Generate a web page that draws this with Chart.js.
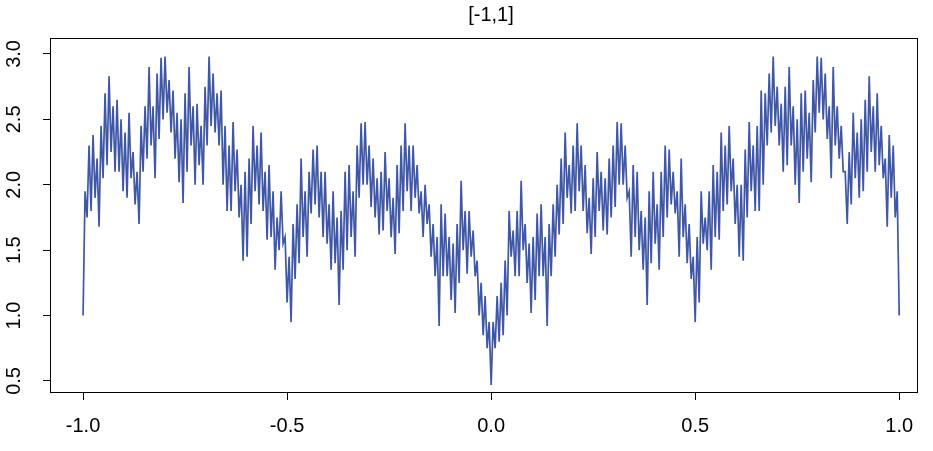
<!DOCTYPE html>
<html>
<head>
<meta charset="utf-8">
<script src="https://cdn.jsdelivr.net/npm/chart.js@4/dist/chart.umd.min.js"></script>
<style>
  html, body { margin: 0; padding: 0; background: #fff; }
  #wrap { width: 933px; height: 451px; position: relative; }
</style>
</head>
<body>
<div id="wrap"><canvas id="c"></canvas></div>
<script>
const title = '[-1,1]';
const xTicks = [-1, -0.5, 0, 0.5, 1];
const yTicks = [0.5, 1, 1.5, 2, 2.5, 3];

// curve, about 0.005 apart on x
const leftValues = [
  1.0,
  1.95, 1.75, 2.3, 1.8,   2.38, 1.9, 2.2, 1.68,   2.45, 2.05, 2.7, 2.15,  2.83, 2.25, 2.6, 2.1,
  2.65, 2.1, 2.5, 1.95,   2.4, 1.9, 2.55, 2.05,   2.25, 1.85, 2.1, 1.7,   2.45, 2.1, 2.6, 2.2,
  2.9, 2.3, 2.6, 2.05,    2.85, 2.35, 2.97, 2.5,  2.98, 2.55, 2.8, 2.4,   2.72, 2.2, 2.55, 2.02,
  2.5, 1.86, 2.7, 2.1,    2.9, 2.3, 2.6, 2.0,     2.62, 2.15, 2.45, 2.0,  2.75, 2.3, 2.98, 2.45,
  2.85, 2.4, 2.7, 2.3,    2.72, 2.0, 2.45, 1.8,   2.3, 1.8, 2.48, 1.95,   2.27, 1.75, 2.0, 1.42,
  2.1, 1.45, 2.2, 1.7,    2.45, 1.95, 2.3, 1.85,  2.4, 1.8, 2.1, 1.58,    2.15, 1.6, 1.95, 1.35,
  1.75, 1.5, 1.95, 1.55,  1.6, 1.1, 1.45, 0.95,   1.7, 1.28, 1.85, 1.4,   2.2, 1.6, 1.95, 1.45,
  2.1, 1.78, 2.27, 1.85,  2.3, 1.75, 2.1, 1.6,    2.1, 1.55, 1.85, 1.35,  1.95, 1.4, 1.75, 1.08,
  1.8, 1.35, 2.1, 1.5,    2.15, 1.6, 1.95, 1.45,  2.3, 1.9, 2.47, 2.0,    2.48, 2.0, 2.3, 1.83,
  2.2, 1.75, 2.05, 1.62,  2.1, 1.65, 2.25, 1.8,   2.05, 1.6, 1.9, 1.47,   2.15, 1.63, 2.3, 1.8,
  2.47, 1.95, 2.3, 1.8,   2.3, 1.9, 2.15, 1.78,   1.95, 1.6, 2.0, 1.7,    1.85, 1.45, 1.7, 1.3,
  1.6, 0.92, 1.85, 1.3,   1.78, 1.3, 1.6, 1.12,   1.55, 1.02, 1.7, 1.25,  2.03, 1.5, 1.8, 1.32,
  1.8, 1.45, 1.65, 1.3,   1.42, 1.0, 1.25, 0.85,
  1.15, 0.75, 0.95
];
const centreValue = 0.47;
const rightValues = [
  0.95, 0.75, 1.15, 0.8,  1.25, 0.85, 1.42, 1.0,  1.8, 1.45, 1.65, 1.3,   1.8, 1.3, 2.03, 1.5,
  1.7, 1.25, 1.55, 1.02,  1.6, 1.12, 1.78, 1.3,   1.85, 1.3, 1.6, 0.92,   1.7, 1.3, 1.85, 1.45,
  2.0, 1.62, 2.2, 1.7,    2.4, 1.9, 2.15, 1.78,   2.3, 1.8, 2.47, 1.95,   2.3, 1.8, 2.15, 1.63,
  1.9, 1.47, 2.05, 1.6,   2.25, 1.8, 2.1, 1.65,   2.05, 1.62, 2.2, 1.75,  2.3, 1.83, 2.48, 2.0,
  2.47, 2.0, 2.3, 1.9,    1.95, 1.45, 2.15, 1.6,  2.1, 1.5, 1.8, 1.35,    1.75, 1.08, 1.95, 1.4,
  2.1, 1.55, 1.85, 1.35,  2.1, 1.6, 2.3, 1.75,    2.27, 1.85, 2.1, 1.78,  1.95, 1.45, 2.2, 1.6,
  1.85, 1.4, 1.7, 1.28,   1.45, 0.95, 1.6, 1.1,   1.95, 1.55, 1.75, 1.5,  1.95, 1.35, 2.15, 1.6,
  2.1, 1.58, 2.4, 1.8,    2.3, 1.85, 2.45, 1.95,  2.2, 1.7, 2.0, 1.45,    2.0, 1.42, 2.27, 1.75,
  2.48, 1.95, 2.3, 1.8,   2.45, 1.8, 2.72, 2.0,   2.7, 2.3, 2.85, 2.4,    2.98, 2.45, 2.75, 2.3,
  2.62, 2.1, 2.75, 2.15,  2.9, 2.3, 2.6, 2.0,     2.5, 1.86, 2.7, 2.1,    2.72, 2.2, 2.55, 2.02,
  2.8, 2.4, 2.98, 2.55,   2.97, 2.5, 2.85, 2.35,  2.6, 2.05, 2.9, 2.3,    2.6, 2.2, 2.45, 2.1,
  2.1, 1.7, 2.25, 1.85,   2.55, 2.05, 2.4, 1.9,   2.5, 1.95, 2.65, 2.1,   2.83, 2.25, 2.6, 2.1,
  2.7, 2.15, 2.45, 2.05,  2.2, 1.68, 2.38, 1.9,
  2.3, 1.75, 1.95, 1.0
];

const yValues = [...leftValues, centreValue, ...rightValues];
const n = yValues.length - 1;
const points = yValues.map((v, i) => ({ x: -1 + 2 * i / n, y: v }));

const FONT = 'Liberation Sans, Arial, Helvetica, sans-serif';

// box around the plot, rotated y labels and the title, R style
const frame = {
  id: 'frame',
  afterDraw(chart) {
    const { ctx, chartArea: a, scales } = chart;
    ctx.save();
    ctx.strokeStyle = '#000';
    ctx.lineWidth = 1;
    ctx.strokeRect(a.left + 0.5, a.top + 0.5, a.right - a.left - 1, a.bottom - a.top - 1);
    ctx.fillStyle = '#000';
    ctx.font = '20px ' + FONT;
    ctx.textAlign = 'center';
    ctx.textBaseline = 'middle';
    yTicks.forEach(v => {
      const y = scales.y.getPixelForValue(v);
      ctx.save();
      ctx.translate(14, y);
      ctx.rotate(-Math.PI / 2);
      ctx.fillText(v.toFixed(1), 0, 0);
      ctx.restore();
    });
    ctx.font = '20px ' + FONT;
    ctx.fillText(title, (a.left + a.right) / 2 + 7, 15);
    ctx.restore();
  }
};

new Chart(document.getElementById('c'), {
  type: 'scatter',
  data: {
    datasets: [{
      data: points,
      showLine: true,
      borderColor: '#3f57a8',
      borderWidth: 1.7,
      pointRadius: 0,
      tension: 0
    }]
  },
  options: {
    responsive: true,
    maintainAspectRatio: false,
    animation: false,
    layout: { padding: { left: 0, top: 38, right: 15, bottom: 0 } },
    plugins: { legend: { display: false }, tooltip: { enabled: false } },
    scales: {
      x: {
        type: 'linear',
        min: -1.081,
        max: 1.046,
        afterBuildTicks: s => { s.ticks = xTicks.map(v => ({ value: v })); },
        afterFit: s => { s.height = 58; },
        grid: { drawOnChartArea: false, drawTicks: true, tickLength: 7, color: '#000', lineWidth: 1 },
        border: { display: false },
        ticks: {
          color: '#000',
          font: { size: 20, family: FONT },
          padding: 14,
          maxRotation: 0,
          callback: v => v.toFixed(1)
        }
      },
      y: {
        type: 'linear',
        min: 0.408,
        max: 3.122,
        afterBuildTicks: s => { s.ticks = yTicks.map(v => ({ value: v })); },
        afterFit: s => { s.width = 50; },
        grid: { drawOnChartArea: false, drawTicks: true, tickLength: 7, color: '#000', lineWidth: 1 },
        border: { display: false },
        ticks: { display: false }
      }
    }
  },
  plugins: [frame]
});
</script>
</body>
</html>
